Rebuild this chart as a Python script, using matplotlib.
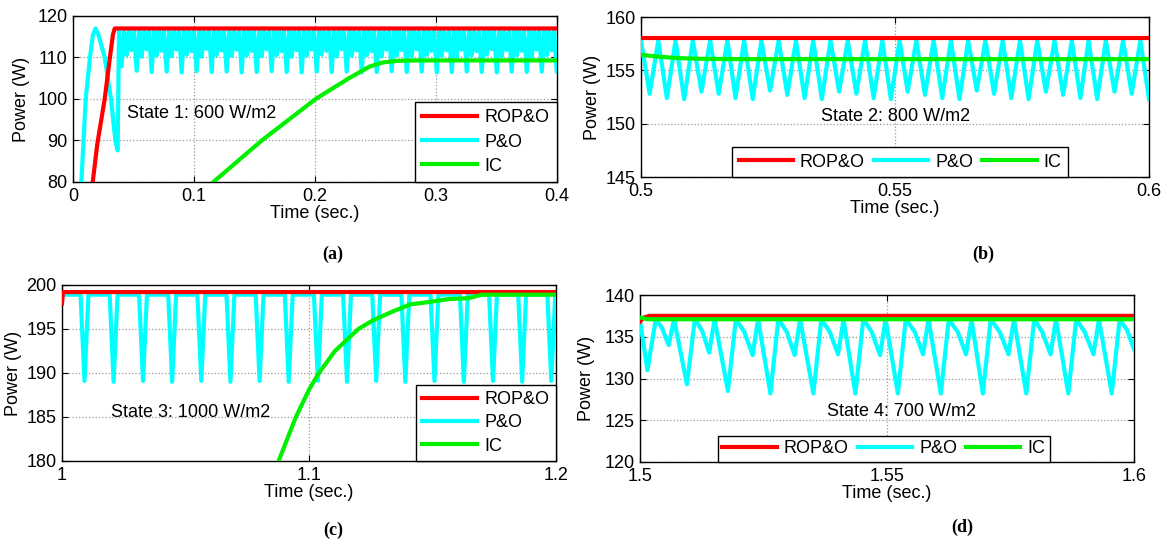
import matplotlib
matplotlib.use("Agg")
import matplotlib.pyplot as plt
from matplotlib.lines import Line2D

plt.rcParams.update({
    "font.family": ["Liberation Sans", "DejaVu Sans"],
    "font.size": 13,
    "axes.linewidth": 1.0,
})

W, H = 1174, 545
RED, CYAN, GREEN = "#ff0000", "#00ffff", "#00f000"
LABELS = ["ROP&O", "P&O", "IC"]

# ---------------- (a) State 1: 600 W/m2, 0 - 0.4 s ----------------
ROP_A_T = [0.0155, 0.0200, 0.0262, 0.0305, 0.0330, 0.0345, 0.4000]
ROP_A_P = [78.0, 89.0, 100.0, 110.0, 115.5, 117.0, 117.0]

IC_A_T = [0.110, 0.156, 0.2005, 0.228, 0.245, 0.256, 0.268, 0.285, 0.400]
IC_A_P = [78.5, 90.0, 100.0, 105.0, 107.8, 108.8, 109.2, 109.3, 109.3]

PO_A_T = [0.0060, 0.0105, 0.0140, 0.0165, 0.0186, 0.0210, 0.0262, 0.0314, 0.0350, 0.0369,
          0.0380, 0.0402, 0.0424, 0.0444, 0.0464, 0.0484,
          0.0504, 0.0526, 0.0548, 0.0568, 0.0588, 0.0608,
          0.0628, 0.0650, 0.0672, 0.0692, 0.0712, 0.0732,
          0.0752, 0.0774, 0.0796, 0.0816, 0.0836, 0.0856,
          0.0876, 0.0898, 0.0920, 0.0940, 0.0960, 0.0980,
          0.1000, 0.1022, 0.1044, 0.1064, 0.1084, 0.1104,
          0.1124, 0.1146, 0.1168, 0.1188, 0.1208, 0.1228,
          0.1248, 0.1270, 0.1292, 0.1312, 0.1332, 0.1352,
          0.1372, 0.1394, 0.1416, 0.1436, 0.1456, 0.1476,
          0.1496, 0.1518, 0.1540, 0.1560, 0.1580, 0.1600,
          0.1620, 0.1642, 0.1664, 0.1684, 0.1704, 0.1724,
          0.1744, 0.1766, 0.1788, 0.1808, 0.1828, 0.1848,
          0.1868, 0.1890, 0.1912, 0.1932, 0.1952, 0.1972,
          0.1992, 0.2014, 0.2036, 0.2056, 0.2076, 0.2096,
          0.2116, 0.2138, 0.2160, 0.2180, 0.2200, 0.2220,
          0.2240, 0.2262, 0.2284, 0.2304, 0.2324, 0.2344,
          0.2364, 0.2386, 0.2408, 0.2428, 0.2448, 0.2468,
          0.2488, 0.2510, 0.2532, 0.2552, 0.2572, 0.2592,
          0.2612, 0.2634, 0.2656, 0.2676, 0.2696, 0.2716,
          0.2736, 0.2758, 0.2780, 0.2800, 0.2820, 0.2840,
          0.2860, 0.2882, 0.2904, 0.2924, 0.2944, 0.2964,
          0.2984, 0.3006, 0.3028, 0.3048, 0.3068, 0.3088,
          0.3108, 0.3130, 0.3152, 0.3172, 0.3192, 0.3212,
          0.3232, 0.3254, 0.3276, 0.3296, 0.3316, 0.3336,
          0.3356, 0.3378, 0.3400, 0.3420, 0.3440, 0.3460,
          0.3480, 0.3502, 0.3524, 0.3544, 0.3564, 0.3584,
          0.3604, 0.3626, 0.3648, 0.3668, 0.3688, 0.3708,
          0.3728, 0.3750, 0.3772, 0.3792, 0.3812, 0.3832,
          0.3852, 0.3874, 0.3896, 0.3916, 0.3936, 0.3956,
          0.3976, 0.3998, 0.4020]
PO_A_P = [75.0, 100.0, 110.0, 115.5, 117.0, 115.5, 110.0, 100.0, 90.0, 87.6,
          116.5, 107.9, 116.5, 110.6, 116.3, 111.8,
          116.5, 106.8, 116.5, 110.2, 116.3, 112.0,
          116.5, 106.5, 116.5, 110.5, 116.3, 111.6,
          116.5, 106.6, 116.5, 110.3, 116.3, 111.9,
          116.5, 106.4, 116.5, 110.7, 116.3, 111.5,
          116.5, 106.7, 116.5, 110.2, 116.3, 112.1,
          116.5, 106.5, 116.5, 110.6, 116.3, 111.7,
          116.5, 106.6, 116.5, 110.4, 116.3, 111.9,
          116.5, 106.4, 116.5, 110.5, 116.3, 111.6,
          116.5, 106.5, 116.5, 110.3, 116.3, 112.0,
          116.5, 106.7, 116.5, 110.6, 116.3, 111.5,
          116.5, 106.5, 116.5, 110.2, 116.3, 111.8,
          116.5, 106.4, 116.5, 110.5, 116.3, 111.9,
          116.5, 106.6, 116.5, 110.7, 116.3, 111.6,
          116.5, 106.5, 116.5, 110.3, 116.3, 112.0,
          116.5, 106.6, 116.5, 110.4, 116.3, 111.7,
          116.5, 106.4, 116.5, 110.6, 116.3, 111.5,
          116.5, 106.5, 116.5, 110.2, 116.3, 111.9,
          116.5, 106.7, 116.5, 110.5, 116.3, 111.8,
          116.5, 106.5, 116.5, 110.3, 116.3, 112.0,
          116.5, 106.6, 116.5, 110.6, 116.3, 111.6,
          116.5, 106.4, 116.5, 110.4, 116.3, 111.7,
          116.5, 106.5, 116.5, 110.2, 116.3, 111.9,
          116.5, 106.6, 116.5, 110.5, 116.3, 111.5,
          116.5, 106.5, 116.5, 110.7, 116.3, 112.0,
          116.5, 106.4, 116.5, 110.3, 116.3, 111.8,
          116.5, 106.6, 116.5, 110.5, 116.3, 111.6,
          116.5, 106.5, 116.5, 110.2, 116.3, 111.9,
          116.5, 106.6, 116.5, 110.6, 116.3, 111.7,
          116.5, 106.5, 116.5]

# ---------------- (b) State 2: 800 W/m2, 0.5 - 0.6 s ----------------
ROP_B_T = [0.500, 0.600]
ROP_B_P = [158.0, 158.0]

IC_B_T = [0.500, 0.503, 0.507, 0.512, 0.520, 0.600]
IC_B_P = [156.45, 156.30, 156.15, 156.08, 156.05, 156.05]

PO_B_T = [0.5000, 0.5017, 0.5034, 0.5051, 0.5068, 0.5085, 0.5102, 0.5119, 0.5136, 0.5153,
          0.5170, 0.5186, 0.5203, 0.5220, 0.5237, 0.5254, 0.5271, 0.5288, 0.5305, 0.5322,
          0.5339, 0.5356, 0.5373, 0.5390, 0.5407, 0.5424, 0.5441, 0.5458, 0.5475, 0.5492,
          0.5509, 0.5525, 0.5542, 0.5559, 0.5576, 0.5593, 0.5610, 0.5627, 0.5644, 0.5661,
          0.5678, 0.5695, 0.5712, 0.5729, 0.5746, 0.5763, 0.5780, 0.5797, 0.5814, 0.5831,
          0.5848, 0.5865, 0.5881, 0.5898, 0.5915, 0.5932, 0.5949, 0.5966, 0.5983, 0.6000]
PO_B_P = [157.8, 152.8, 157.8, 152.4, 157.8, 152.3, 157.8, 153.0, 157.8, 152.8,
          157.8, 152.4, 157.8, 152.3, 157.8, 153.1, 157.8, 152.7, 157.8, 152.4,
          157.8, 152.3, 157.8, 153.0, 157.8, 152.8, 157.8, 152.4, 157.8, 152.3,
          157.8, 153.0, 157.8, 152.7, 157.8, 152.4, 157.8, 152.3, 157.8, 153.1,
          157.8, 152.8, 157.8, 152.4, 157.8, 152.3, 157.8, 153.0, 157.8, 152.7,
          157.8, 152.4, 157.8, 152.3, 157.8, 153.0, 157.8, 152.8, 157.8, 152.3]

# ---------------- (c) State 3: 1000 W/m2, 1.0 - 1.2 s ----------------
ROP_C_T = [1.0000, 1.0004, 1.2000]
ROP_C_P = [197.9, 199.2, 199.2]

IC_C_T = [1.0870, 1.0947, 1.1000, 1.1040, 1.1105, 1.1200, 1.1260, 1.1340,
          1.1410, 1.1495, 1.1565, 1.1645, 1.1700, 1.2000]
IC_C_P = [179.5, 185.0, 188.1, 190.0, 192.5, 195.0, 196.0, 197.0,
          197.8, 198.1, 198.4, 198.5, 198.9, 198.9]

PO_C_T = [1.0000,
          1.0075, 1.0091, 1.0107, 1.0193, 1.0209, 1.0225, 1.0312, 1.0328, 1.0344,
          1.0430, 1.0446, 1.0462, 1.0548, 1.0564, 1.0580, 1.0666, 1.0682, 1.0698,
          1.0784, 1.0800, 1.0816, 1.0902, 1.0918, 1.0934, 1.1020, 1.1036, 1.1052,
          1.1138, 1.1154, 1.1170, 1.1256, 1.1272, 1.1288, 1.1374, 1.1390, 1.1406,
          1.1492, 1.1508, 1.1524, 1.1611, 1.1627, 1.1643, 1.1729, 1.1745, 1.1761,
          1.1847, 1.1863, 1.1879, 1.1965, 1.1981, 1.1997,
          1.2000]
PO_C_P = [198.9,
          198.9, 189.1, 198.9, 198.9, 189.0, 198.9, 198.9, 189.1, 198.9,
          198.9, 189.0, 198.9, 198.9, 189.1, 198.9, 198.9, 189.0, 198.9,
          198.9, 189.1, 198.9, 198.9, 189.0, 198.9, 198.9, 189.1, 198.9,
          198.9, 189.0, 198.9, 198.9, 189.1, 198.9, 198.9, 189.0, 198.9,
          198.9, 189.1, 198.9, 198.9, 189.0, 198.9, 198.9, 189.1, 198.9,
          198.9, 189.0, 198.9, 198.9, 189.1, 198.9,
          198.9]

# ---------------- (d) State 4: 700 W/m2, 1.5 - 1.6 s ----------------
ROP_D_T = [1.5000, 1.5008, 1.5019, 1.6000]
ROP_D_P = [136.8, 137.3, 137.5, 137.5]

IC_D_T = [1.5000, 1.5015, 1.6000]
IC_D_P = [137.3, 137.1, 137.1]

PO_D_T = [1.5000, 1.5015, 1.5032, 1.5045, 1.5058, 1.5069,
          1.5095, 1.5111, 1.5126, 1.5140, 1.5151,
          1.5178, 1.5194, 1.5211, 1.5228, 1.5239,
          1.5264, 1.5280, 1.5297, 1.5313, 1.5324,
          1.5351, 1.5367, 1.5384, 1.5401, 1.5412,
          1.5436, 1.5452, 1.5469, 1.5486, 1.5497,
          1.5522, 1.5538, 1.5556, 1.5573, 1.5584,
          1.5609, 1.5625, 1.5643, 1.5660, 1.5671,
          1.5694, 1.5710, 1.5728, 1.5746, 1.5757,
          1.5782, 1.5798, 1.5814, 1.5831, 1.5842,
          1.5867, 1.5883, 1.5900, 1.5918, 1.5929,
          1.5955, 1.5971, 1.5986, 1.6000]
PO_D_P = [137.0, 131.0, 137.1, 136.0, 134.0, 137.1,
          129.3, 137.1, 135.7, 133.1, 137.1,
          128.5, 137.1, 135.6, 132.8, 137.1,
          128.2, 137.1, 135.6, 132.8, 137.1,
          128.2, 137.1, 135.6, 132.9, 137.1,
          128.2, 137.1, 135.6, 132.8, 137.1,
          128.2, 137.1, 135.6, 132.9, 137.1,
          128.2, 137.1, 135.6, 132.9, 137.1,
          128.2, 137.1, 135.6, 132.9, 137.1,
          128.2, 137.1, 135.6, 132.9, 137.1,
          128.2, 137.1, 135.6, 132.9, 137.1,
          128.2, 137.1, 135.8, 133.5]

# tick values / labels per panel
XT_A, XL_A, YT_A = [0, 0.1, 0.2, 0.3, 0.4], ["0", "0.1", "0.2", "0.3", "0.4"], [80, 90, 100, 110, 120]
XT_B, XL_B, YT_B = [0.5, 0.55, 0.6], ["0.5", "0.55", "0.6"], [145, 150, 155, 160]
XT_C, XL_C, YT_C = [1.0, 1.1, 1.2], ["1", "1.1", "1.2"], [180, 185, 190, 195, 200]
XT_D, XL_D, YT_D = [1.5, 1.55, 1.6], ["1.5", "1.55", "1.6"], [120, 125, 130, 135, 140]


def add_ax(fig, l, r, t, b):
    return fig.add_axes([l / W, 1 - b / H, (r - l) / W, (b - t) / H])


def draw(ax, po, rop, ic, xt, xl, yt, state, state_xy, ylpad):
    lw = 3.0
    ax.plot(po[0], po[1], color=CYAN, lw=lw, solid_joinstyle="round", zorder=3)
    ax.plot(rop[0], rop[1], color=RED, lw=lw, zorder=4)
    ax.plot(ic[0], ic[1], color=GREEN, lw=lw, zorder=5)
    ax.set_xlim(xt[0], xt[-1])
    ax.set_ylim(yt[0], yt[-1])
    ax.set_xticks(xt)
    ax.set_xticklabels(xl)
    ax.set_yticks(yt)
    ax.grid(True, ls=":", color="0.6", lw=0.9)
    ax.tick_params(direction="in", top=True, right=True, length=4, width=0.8, pad=4)
    ax.set_xlabel("Time (sec.)", labelpad=0)
    ax.set_ylabel("Power (W)", labelpad=ylpad)
    ax.text(state_xy[0], state_xy[1], state, transform=ax.transAxes,
            ha="left", va="center", zorder=6)


def handles():
    return [Line2D([0], [0], color=c, lw=3.0) for c in (RED, CYAN, GREEN)]


fig = plt.figure(figsize=(W / 100, H / 100), dpi=100)

ax_a = add_ax(fig, 73, 557, 16, 182)
draw(ax_a, (PO_A_T, PO_A_P), (ROP_A_T, ROP_A_P), (IC_A_T, IC_A_P),
     XT_A, XL_A, YT_A, "State 1: 600 W/m2", (0.111, 0.41), 5)
ax_a.legend(handles(), LABELS, loc="lower right", borderaxespad=0, fancybox=False,
            edgecolor="black", framealpha=1, handlelength=3.0, handletextpad=0.45,
            labelspacing=0.4, borderpad=0.4).get_frame().set_linewidth(1.0)

ax_b = add_ax(fig, 641, 1149, 17, 177)
draw(ax_b, (PO_B_T, PO_B_P), (ROP_B_T, ROP_B_P), (IC_B_T, IC_B_P),
     XT_B, XL_B, YT_B, "State 2: 800 W/m2", (0.355, 0.38), 3)
ax_b.legend(handles(), LABELS, loc="lower center", bbox_to_anchor=(0.51, 0.0), ncol=3,
            borderaxespad=0, fancybox=False, edgecolor="black", framealpha=1,
            handlelength=3.0, handletextpad=0.4, columnspacing=0.5,
            borderpad=0.35).get_frame().set_linewidth(1.0)

ax_c = add_ax(fig, 62, 556, 285, 461)
draw(ax_c, (PO_C_T, PO_C_P), (ROP_C_T, ROP_C_P), (IC_C_T, IC_C_P),
     XT_C, XL_C, YT_C, "State 3: 1000 W/m2", (0.099, 0.277), 3)
ax_c.legend(handles(), LABELS, loc="lower right", borderaxespad=0, fancybox=False,
            edgecolor="black", framealpha=1, handlelength=3.0, handletextpad=0.45,
            labelspacing=0.35, borderpad=0.35).get_frame().set_linewidth(1.0)

ax_d = add_ax(fig, 640, 1134, 295, 462)
draw(ax_d, (PO_D_T, PO_D_P), (ROP_D_T, ROP_D_P), (IC_D_T, IC_D_P),
     XT_D, XL_D, YT_D, "State 4: 700 W/m2", (0.379, 0.30), 7)
ax_d.legend(handles(), LABELS, loc="lower center", bbox_to_anchor=(0.494, 0.0), ncol=3,
            borderaxespad=0, fancybox=False, edgecolor="black", framealpha=1,
            handlelength=3.0, handletextpad=0.4, columnspacing=0.5,
            borderpad=0.25).get_frame().set_linewidth(1.0)

# panel captions
for lab, x, y in [("(a)", 333, 254), ("(b)", 983, 254), ("(c)", 333, 530), ("(d)", 962, 527)]:
    fig.text(x / W, 1 - y / H, lab, ha="center", va="center", fontsize=13,
             fontweight="bold", family=["Liberation Serif", "DejaVu Serif"])

fig.savefig("out.png", dpi=100)
